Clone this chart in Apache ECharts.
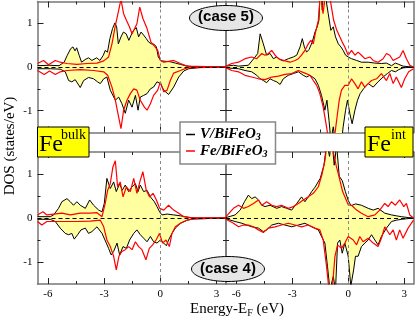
<!DOCTYPE html>
<html>
<head>
<meta charset="utf-8">
<script src="https://cdn.jsdelivr.net/npm/echarts/dist/echarts.min.js"></script>
<style>
html, body { margin: 0; padding: 0; background: #fff; }
#dos { width: 415px; height: 323px; }
</style>
</head>
<body>
<div id="dos"></div>
<script>
// ticks
const xMajor = [-6, -3, 0, 3]
const xMinor = [-4.5, -1.5, 1.5]
const yMajor = [-1, 0, 1]
const yMinor = [-0.5, 0.5]

// case 5, Fe bulk  [E-EF (eV), DOS]
const c5BulkV_up = [[-6.55,0.03],[-5.93,0.04],[-5.4,0.03],[-5.13,0.11],[-4.96,0.27],[-4.78,0.42],[-4.66,0.46],[-4.55,0.37],[-4.46,0.44],[-4.33,0.27],[-4.2,0.11],[-4.01,0.17],[-3.83,0.21],[-3.65,0.15],[-3.4,0.21],[-3.22,0.15],[-3.04,0.27],[-2.94,0.38],[-2.82,0.34],[-2.69,0.65],[-2.55,0.88],[-2.42,1.01],[-2.33,0.92],[-2.24,0.53],[-2.1,0.69],[-1.97,0.8],[-1.82,0.76],[-1.68,0.61],[-1.56,0.73],[-1.43,0.84],[-1.28,0.9],[-1.16,0.69],[-1.03,0.8],[-0.89,0.73],[-0.75,0.65],[-0.62,0.57],[-0.48,0.53],[-0.33,0.52],[-0.21,0.46],[-0.11,0.23],[0.04,0.14],[0.27,0.13],[0.53,0.12],[0.8,0.09],[1.07,0.06],[1.34,0.03],[1.7,0.01],[3.5,0]]
const c5BulkV_dn = [[-6.55,-0.04],[-5.87,-0.04],[-5.34,-0.05],[-5.07,-0.11],[-4.89,-0.31],[-4.72,-0.34],[-4.54,-0.29],[-4.27,-0.47],[-4.09,-0.31],[-3.83,-0.24],[-3.56,-0.27],[-3.35,-0.34],[-3.2,-0.38],[-3.02,-0.27],[-2.85,-0.23],[-2.67,-0.53],[-2.4,-0.76],[-2.22,-0.69],[-2.05,-0.84],[-1.87,-1.06],[-1.69,-0.76],[-1.51,-0.92],[-1.33,-0.65],[-1.19,-0.99],[-1.07,-0.69],[-0.89,-0.65],[-0.71,-0.61],[-0.53,-0.5],[-0.36,-0.46],[-0.18,-0.34],[0,-0.38],[0.18,-0.53],[0.44,-0.63],[0.71,-0.46],[0.98,-0.23],[1.25,-0.09],[1.51,-0.04],[2.14,-0.01],[3.5,0]]
const c5BulkFe_up = [[-6.55,0.08],[-6.23,0.15],[-5.96,0.05],[-5.6,0.15],[-5.34,0.11],[-4.98,0.08],[-4.45,0.06],[-3.91,0.08],[-3.38,0.09],[-3.02,0.14],[-2.76,0.23],[-2.58,0.53],[-2.4,0.95],[-2.22,1.3],[-2.1,1.55],[-1.96,1.22],[-1.81,1.07],[-1.65,0.92],[-1.51,0.76],[-1.37,0.88],[-1.25,0.99],[-1.1,1.37],[-0.93,1.11],[-0.71,0.88],[-0.5,0.57],[-0.3,0.47],[-0.14,0.38],[0,0.15],[0.18,0.11],[0.44,0.13],[0.71,0.15],[1.07,0.08],[1.42,0.02],[3.5,0]]
const c5BulkFe_dn = [[-6.55,-0.08],[-6.19,-0.17],[-5.91,-0.09],[-5.6,-0.17],[-5.34,-0.11],[-4.98,-0.08],[-4.27,-0.06],[-3.56,-0.08],[-3.02,-0.11],[-2.81,-0.19],[-2.58,-0.46],[-2.4,-0.76],[-2.26,-1.07],[-2.1,-1.41],[-1.96,-0.99],[-1.78,-0.76],[-1.6,-0.61],[-1.42,-0.5],[-1.25,-0.53],[-1.07,-0.76],[-0.85,-0.92],[-0.71,-0.99],[-0.53,-0.84],[-0.36,-0.65],[-0.14,-0.53],[0,-0.34],[0.18,-0.57],[0.36,-0.53],[0.53,-0.31],[0.71,-0.14],[1.07,-0.08],[1.42,-0.02],[3.5,0]]

// case 5, Fe int
const c5IntV_up = [[-6.55,0.02],[-6.15,0.04],[-5.88,0.02],[-5.35,0.04],[-4.99,0.23],[-4.85,0.31],[-4.72,0.76],[-4.55,0.53],[-4.37,0.27],[-4.19,0.31],[-4.01,0.19],[-3.83,0.23],[-3.65,0.17],[-3.48,0.14],[-3.21,0.19],[-2.94,0.23],[-2.76,0.27],[-2.58,0.46],[-2.46,0.65],[-2.35,0.46],[-2.23,0.34],[-2.1,0.4],[-1.93,0.57],[-1.78,0.8],[-1.66,0.92],[-1.57,1.07],[-1.48,1.98],[-1.39,1.3],[-1.3,1.83],[-1.21,1.6],[-1.07,1.22],[-0.93,0.84],[-0.8,0.92],[-0.68,0.69],[-0.53,0.53],[-0.39,0.46],[-0.27,0.38],[-0.14,0.27],[0,0.23],[0.18,0.19],[0.45,0.15],[0.71,0.11],[1.07,0.11],[1.43,0.09],[1.78,0.08],[2.05,0.09],[2.32,0.03],[2.53,0.09],[2.71,0.06],[2.94,0.02],[3.39,0],[3.5,0]]
const c5IntV_dn = [[-6.55,-0.02],[-5.88,-0.04],[-5.53,-0.08],[-5.17,-0.11],[-4.9,-0.19],[-4.72,-0.27],[-4.55,-0.31],[-4.37,-0.36],[-4.19,-0.27],[-4.01,-0.31],[-3.83,-0.34],[-3.65,-0.4],[-3.48,-0.27],[-3.21,-0.19],[-2.94,-0.15],[-2.67,-0.11],[-2.41,-0.19],[-2.23,-0.23],[-2.05,-0.19],[-1.78,-0.27],[-1.6,-0.42],[-1.43,-0.65],[-1.25,-0.99],[-1.14,-0.76],[-1.03,-1.22],[-0.93,-1.68],[-0.8,-1.37],[-0.68,-1.76],[-0.53,-1.53],[-0.39,-1.83],[-0.27,-1.37],[-0.14,-0.99],[-0.04,-0.76],[0.09,-1.07],[0.21,-1.3],[0.36,-0.99],[0.5,-0.76],[0.64,-0.61],[0.82,-0.5],[1.07,-0.38],[1.34,-0.46],[1.6,-0.34],[1.87,-0.23],[2.1,-0.15],[2.32,-0.08],[2.53,-0.11],[2.71,-0.06],[2.94,-0.02],[3.5,0]]
const c5IntFe_up = [[-6.55,0.02],[-6.24,0.08],[-5.88,0.11],[-5.53,0.19],[-5.17,0.23],[-4.9,0.19],[-4.63,0.31],[-4.46,0.27],[-4.28,0.31],[-4.1,0.38],[-3.92,0.27],[-3.74,0.19],[-3.39,0.14],[-3.12,0.11],[-2.85,0.15],[-2.67,0.19],[-2.5,0.27],[-2.32,0.38],[-2.14,0.53],[-2.0,0.61],[-1.87,0.53],[-1.75,0.8],[-1.6,1.07],[-1.48,1.75],[-1.35,1.22],[-1.21,1.68],[-1.07,1.83],[-0.93,1.45],[-0.78,1.07],[-0.61,0.84],[-0.45,0.69],[-0.32,0.57],[-0.18,0.46],[0,0.27],[0.18,0.38],[0.36,0.27],[0.53,0.34],[0.71,0.27],[0.89,0.19],[1.16,0.23],[1.34,0.15],[1.6,0.11],[1.87,0.19],[2.05,0.31],[2.23,0.27],[2.41,0.15],[2.58,0.19],[2.76,0.23],[2.94,0.38],[3.12,0.19],[3.3,0.04],[3.5,0]]
const c5IntFe_dn = [[-6.55,-0.02],[-6.24,-0.08],[-5.88,-0.11],[-5.53,-0.19],[-5.17,-0.23],[-4.81,-0.27],[-4.46,-0.29],[-4.1,-0.23],[-3.74,-0.21],[-3.39,-0.17],[-3.03,-0.15],[-2.67,-0.08],[-2.32,-0.14],[-2.05,-0.19],[-1.87,-0.31],[-1.69,-0.42],[-1.52,-0.61],[-1.34,-0.92],[-1.16,-1.37],[-1.03,-1.76],[-0.8,-1.83],[-0.62,-1.22],[-0.48,-0.76],[-0.36,-0.53],[-0.18,-0.42],[0,-0.42],[0.18,-0.27],[0.36,-0.38],[0.53,-0.5],[0.71,-0.34],[0.89,-0.46],[1.07,-0.38],[1.25,-0.31],[1.52,-0.27],[1.78,-0.15],[2.05,-0.31],[2.23,-0.15],[2.41,-0.38],[2.58,-0.23],[2.85,-0.47],[3.03,-0.27],[3.24,-0.11],[3.5,-0.04]]

// case 4, Fe bulk
const c4BulkV_up = [[-6.55,0.03],[-5.87,0.03],[-5.69,0.07],[-5.43,0.22],[-5.25,0.37],[-4.98,0.44],[-4.8,0.37],[-4.63,0.29],[-4.45,0.37],[-4.27,0.29],[-4.0,0.22],[-3.77,0.41],[-3.56,0.29],[-3.29,0.18],[-3.11,0.14],[-2.99,0.33],[-2.85,0.9],[-2.67,0.67],[-2.49,0.82],[-2.35,0.6],[-2.17,0.78],[-2.03,0.63],[-1.87,0.75],[-1.69,0.6],[-1.51,0.71],[-1.33,0.78],[-1.19,0.6],[-1.07,0.75],[-0.89,0.6],[-0.71,0.63],[-0.53,0.48],[-0.32,0.37],[-0.18,0.26],[-0.04,0.14],[0.09,0.07],[0.36,0.09],[0.71,0.07],[1.07,0.05],[1.42,0.02],[1.78,0],[3.5,0]]
const c4BulkV_dn = [[-6.55,-0.03],[-5.87,-0.03],[-5.6,-0.08],[-5.34,-0.23],[-5.07,-0.35],[-4.89,-0.38],[-4.72,-0.35],[-4.59,-0.48],[-4.41,-0.38],[-4.23,-0.27],[-4.0,-0.23],[-3.83,-0.35],[-3.65,-0.31],[-3.38,-0.2],[-3.11,-0.35],[-2.88,-0.57],[-2.76,-0.69],[-2.62,-0.84],[-2.49,-0.76],[-2.31,-0.57],[-2.17,-0.84],[-1.99,-0.65],[-1.81,-0.69],[-1.64,-0.5],[-1.42,-0.35],[-1.25,-0.27],[-1.07,-0.38],[-0.89,-0.46],[-0.71,-0.54],[-0.53,-0.42],[-0.36,-0.54],[-0.18,-0.57],[0,-0.5],[0.18,-0.57],[0.32,-0.63],[0.44,-0.5],[0.62,-0.35],[0.8,-0.23],[1.07,-0.12],[1.42,-0.05],[1.78,-0.02],[3.5,0]]
const c4BulkFe_up = [[-6.55,0.07],[-6.26,0.14],[-6.05,0.07],[-5.69,0.09],[-5.25,0.11],[-4.8,0.07],[-4.27,0.11],[-3.74,0.11],[-3.38,0.12],[-3.11,0.03],[-2.94,0.33],[-2.81,0.63],[-2.67,0.78],[-2.53,1.16],[-2.4,1.3],[-2.28,0.71],[-2.14,0.82],[-1.99,0.48],[-1.81,0.71],[-1.6,0.6],[-1.42,0.9],[-1.25,0.56],[-1.07,0.86],[-0.93,1.05],[-0.75,0.63],[-0.57,0.48],[-0.39,0.56],[-0.21,0.41],[-0.04,0.22],[0.18,0.18],[0.44,0.29],[0.71,0.18],[0.98,0.11],[1.25,0.03],[1.6,0.01],[3.5,0]]
const c4BulkFe_dn = [[-6.55,-0.08],[-6.32,-0.16],[-6.05,-0.08],[-5.69,-0.08],[-5.16,-0.08],[-4.45,-0.08],[-3.74,-0.07],[-3.2,-0.05],[-3.02,-0.2],[-2.85,-0.5],[-2.67,-0.65],[-2.49,-0.87],[-2.35,-1.18],[-2.21,-0.87],[-2.05,-0.76],[-1.87,-0.72],[-1.69,-0.65],[-1.51,-0.72],[-1.33,-0.54],[-1.16,-0.65],[-0.98,-0.72],[-0.77,-0.95],[-0.59,-0.69],[-0.41,-0.61],[-0.23,-0.5],[-0.05,-0.35],[0.12,-0.57],[0.3,-0.5],[0.48,-0.65],[0.62,-0.35],[0.8,-0.2],[1.07,-0.12],[1.42,-0.05],[1.78,-0.02],[3.5,0]]

// case 4, Fe int
const c4IntV_up = [[-6.55,0.01],[-6.06,0.07],[-5.79,0.18],[-5.56,0.37],[-5.35,0.52],[-5.17,0.44],[-4.99,0.48],[-4.81,0.41],[-4.63,0.29],[-4.46,0.26],[-4.19,0.29],[-3.83,0.22],[-3.57,0.26],[-3.3,0.22],[-3.03,0.18],[-2.76,0.33],[-2.5,0.48],[-2.32,0.37],[-2.14,0.48],[-1.96,0.6],[-1.78,0.7],[-1.5,0.9],[-1.3,1.2],[-1.15,1.7],[-1.0,1.4],[-0.88,1.8],[-0.75,1.2],[-0.62,1.65],[-0.48,0.95],[-0.32,0.85],[-0.15,0.6],[0,0.4],[0.15,0.28],[0.4,0.32],[0.71,0.29],[1.07,0.22],[1.34,0.18],[1.6,0.22],[1.96,0.11],[2.32,0.07],[2.58,0.05],[2.85,0.03],[3.21,0.01],[3.5,0]]
const c4IntV_dn = [[-6.55,-0.02],[-6.06,-0.08],[-5.7,-0.12],[-5.44,-0.16],[-5.17,-0.2],[-4.81,-0.23],[-4.55,-0.31],[-4.37,-0.27],[-4.1,-0.16],[-3.74,-0.12],[-3.39,-0.16],[-3.03,-0.2],[-2.67,-0.16],[-2.32,-0.12],[-1.96,-0.2],[-1.6,-0.27],[-1.43,-0.42],[-1.25,-0.57],[-1.11,-1.1],[-0.98,-1.63],[-0.8,-1.33],[-0.68,-1.63],[-0.57,-0.57],[-0.45,-0.5],[-0.32,-0.8],[-0.18,-0.57],[0,-0.87],[0.14,-1.55],[0.29,-1.18],[0.39,-0.87],[0.53,-0.87],[0.71,-0.65],[0.89,-0.57],[1.07,-0.5],[1.25,-0.38],[1.43,-0.5],[1.6,-0.61],[1.78,-0.42],[2.05,-0.23],[2.32,-0.08],[2.58,-0.05],[2.85,-0.03],[3.5,0]]
const c4IntFe_up = [[-6.55,0.03],[-6.15,0.22],[-5.88,0.29],[-5.61,0.22],[-5.35,0.26],[-5.08,0.33],[-4.81,0.41],[-4.63,0.29],[-4.37,0.37],[-4.1,0.29],[-3.83,0.26],[-3.57,0.29],[-3.21,0.22],[-2.94,0.26],[-2.67,0.33],[-2.41,0.41],[-2.14,0.48],[-1.87,0.56],[-1.6,0.71],[-1.4,1.0],[-1.25,1.3],[-1.1,1.8],[-0.95,1.9],[-0.8,1.5],[-0.65,1.2],[-0.5,0.95],[-0.3,0.6],[0,0.3],[0.18,0.29],[0.45,0.18],[0.71,0.11],[1.07,0.03],[1.43,0.07],[1.69,0.18],[1.96,0.33],[2.14,0.26],[2.32,0.37],[2.53,0.29],[2.76,0.41],[2.98,0.26],[3.12,0.33],[3.3,0.07],[3.5,0]]
const c4IntFe_dn = [[-6.55,-0.03],[-6.15,-0.12],[-5.88,-0.2],[-5.61,-0.16],[-5.35,-0.16],[-5.08,-0.2],[-4.81,-0.27],[-4.55,-0.33],[-4.28,-0.23],[-3.92,-0.2],[-3.57,-0.16],[-3.21,-0.12],[-2.85,-0.16],[-2.5,-0.2],[-2.14,-0.16],[-1.78,-0.23],[-1.52,-0.27],[-1.34,-0.5],[-1.16,-1.1],[-1.03,-1.63],[-0.86,-1.63],[-0.71,-0.87],[-0.57,-0.61],[-0.36,-0.69],[-0.18,-0.57],[0,-0.42],[0.27,-0.5],[0.45,-0.61],[0.62,-0.42],[0.8,-0.54],[1.07,-0.46],[1.34,-0.57],[1.6,-0.65],[1.78,-0.46],[1.96,-0.2],[2.23,-0.38],[2.41,-0.27],[2.58,-0.5],[2.76,-0.27],[2.94,-0.46],[3.21,-0.23],[3.5,-0.05]]

const serif = '"Liberation Serif", "DejaVu Serif", serif'
const sans = '"Liberation Sans", Arial, sans-serif'
const fill = '#ffffa0'

const panels = [
  { grid: { left: 37.5, top: 1.5, width: 188.5, height: 131 }, vUp: c5BulkV_up, vDn: c5BulkV_dn, feUp: c5BulkFe_up, feDn: c5BulkFe_dn, xLab: false, yLab: true },
  { grid: { left: 226, top: 1.5, width: 187.5, height: 131 }, vUp: c5IntV_up, vDn: c5IntV_dn, feUp: c5IntFe_up, feDn: c5IntFe_dn, xLab: false, yLab: false },
  { grid: { left: 37.5, top: 152, width: 188.5, height: 132 }, vUp: c4BulkV_up, vDn: c4BulkV_dn, feUp: c4BulkFe_up, feDn: c4BulkFe_dn, xLab: true, yLab: true },
  { grid: { left: 226, top: 152, width: 187.5, height: 132 }, vUp: c4IntV_up, vDn: c4IntV_dn, feUp: c4IntFe_up, feDn: c4IntFe_dn, xLab: true, yLab: false }
]

const tickColor = '#222'
const lineCol = '#777'

function makeAxes(dim, g, showLab) {
  const isX = dim === 'x'
  const base = isX
    ? { type: 'value', gridIndex: g, min: -6.55, max: 3.5, splitLine: { show: false } }
    : { type: 'value', gridIndex: g, min: -1.5, max: 1.5, splitLine: { show: false } }
  const major = isX ? xMajor : yMajor
  const minor = isX ? xMinor : yMinor
  const pos = isX ? ['bottom', 'top'] : ['left', 'right']
  const out = []
  pos.forEach(p => {
    out.push(Object.assign({}, base, {
      position: p,
      axisLine: { show: true, onZero: false, lineStyle: { color: lineCol, width: 1.5 } },
      axisTick: { show: true, inside: true, length: 6, customValues: major, lineStyle: { color: tickColor } },
      axisLabel: { show: showLab && (p === 'bottom' || p === 'left'), customValues: major, margin: 5,
        fontFamily: serif, fontSize: 11, color: '#000' }
    }))
    out.push(Object.assign({}, base, {
      position: p,
      axisLine: { show: false, onZero: false },
      axisTick: { show: true, inside: true, length: 3, customValues: minor, lineStyle: { color: tickColor } },
      axisLabel: { show: false }
    }))
  })
  return out
}

const xAxis = [], yAxis = [], series = []
panels.forEach((p, g) => {
  xAxis.push(...makeAxes('x', g, p.xLab))
  yAxis.push(...makeAxes('y', g, p.yLab))
  const idx = { xAxisIndex: g * 4, yAxisIndex: g * 4 }
  ;[p.vUp, p.vDn].forEach(d => {
    series.push(Object.assign({
      name: 'V/BiFeO3', type: 'line', data: d, symbol: 'none', z: 2,
      lineStyle: { color: '#000', width: 1 }, itemStyle: { color: '#000' },
      areaStyle: { color: fill, opacity: 1 }
    }, idx))
  })
  ;[p.feUp, p.feDn].forEach((d, k) => {
    const s = Object.assign({
      name: 'Fe/BiFeO3', type: 'line', data: d, symbol: 'none', z: 3,
      lineStyle: { color: '#ff0000', width: 1.2 }, itemStyle: { color: '#ff0000' }
    }, idx)
    if (k === 1) {
      s.markLine = {
        silent: true, symbol: ['none', 'none'], label: { show: false }, animation: false,
        data: [
          { xAxis: 0, lineStyle: { color: '#888', width: 1, type: [3, 3] } },
          { yAxis: 0, lineStyle: { color: '#000', width: 1, type: [4, 3] } }
        ]
      }
    }
    series.push(s)
  })
})

const legendRich = {
  t: { fontFamily: serif, fontStyle: 'italic', fontWeight: 'bold', fontSize: 15, color: '#000', lineHeight: 16 },
  s: { fontFamily: serif, fontStyle: 'italic', fontWeight: 'bold', fontSize: 10, color: '#000', lineHeight: 9, verticalAlign: 'bottom' }
}

const graphic = [
  // Fe bulk label
  { type: 'rect', z: 100, shape: { x: 37.5, y: 127, width: 51.5, height: 30 }, style: { fill: '#ffff00', stroke: '#000', lineWidth: 1 } },
  { type: 'text', z: 101, x: 39, y: 133, style: { text: 'Fe', font: '24px ' + serif, fill: '#000', verticalAlign: 'top' } },
  { type: 'text', z: 101, x: 61, y: 128, style: { text: 'bulk', font: '14px ' + serif, fill: '#000', verticalAlign: 'top' } },
  // Fe int label
  { type: 'rect', z: 100, shape: { x: 365, y: 127, width: 48, height: 30 }, style: { fill: '#ffff00', stroke: '#000', lineWidth: 1 } },
  { type: 'text', z: 101, x: 367, y: 133, style: { text: 'Fe', font: '24px ' + serif, fill: '#000', verticalAlign: 'top' } },
  { type: 'text', z: 101, x: 391, y: 128, style: { text: 'int', font: '14px ' + serif, fill: '#000', verticalAlign: 'top' } },
  // case tags
  { type: 'ellipse', z: 100, shape: { cx: 226, cy: 18, rx: 36.5, ry: 12.5 }, style: { fill: '#e6e6e6', stroke: '#000', lineWidth: 1 } },
  { type: 'text', z: 101, x: 226, y: 17, style: { text: '(case 5)', font: 'bold 15px ' + sans, fill: '#000', align: 'center', verticalAlign: 'middle' } },
  { type: 'ellipse', z: 100, shape: { cx: 228, cy: 269, rx: 36.5, ry: 12.5 }, style: { fill: '#e6e6e6', stroke: '#000', lineWidth: 1 } },
  { type: 'text', z: 101, x: 228, y: 269, style: { text: '(case 4)', font: 'bold 15px ' + sans, fill: '#000', align: 'center', verticalAlign: 'middle' } },
  // axis titles
  { type: 'text', z: 101, x: 10, y: 146, rotation: Math.PI / 2, style: { text: 'DOS (states/eV)', font: '15px ' + serif, fill: '#000', align: 'center', verticalAlign: 'middle' } },
  { type: 'text', z: 101, x: 237, y: 309, style: {
      text: '{a|Energy-E}{s|F}{a| (eV)}', align: 'center', verticalAlign: 'middle',
      rich: {
        a: { fontFamily: serif, fontSize: 15, fill: '#000', lineHeight: 18 },
        s: { fontFamily: serif, fontSize: 10, fill: '#000', lineHeight: 10, verticalAlign: 'bottom' }
      } } }
]

const chart = echarts.init(document.getElementById('dos'), null, { renderer: 'canvas' })
chart.setOption({
  animation: false,
  backgroundColor: '#fff',
  grid: panels.map(p => Object.assign({ containLabel: false }, p.grid)),
  xAxis: xAxis,
  yAxis: yAxis,
  legend: {
    data: ['V/BiFeO3', 'Fe/BiFeO3'],
    orient: 'vertical', left: 180, top: 122, z: 100,
    padding: [5, 8, 5, 6], itemGap: 1, itemWidth: 9, itemHeight: 1.5, icon: 'rect',
    backgroundColor: '#fff', borderColor: '#888', borderWidth: 1.5,
    selectedMode: false,
    formatter: name => '{t|' + name.slice(0, -1) + '}{s|3}',
    textStyle: { rich: legendRich }
  },
  series: series,
  graphic: graphic
})
</script>
</body>
</html>
